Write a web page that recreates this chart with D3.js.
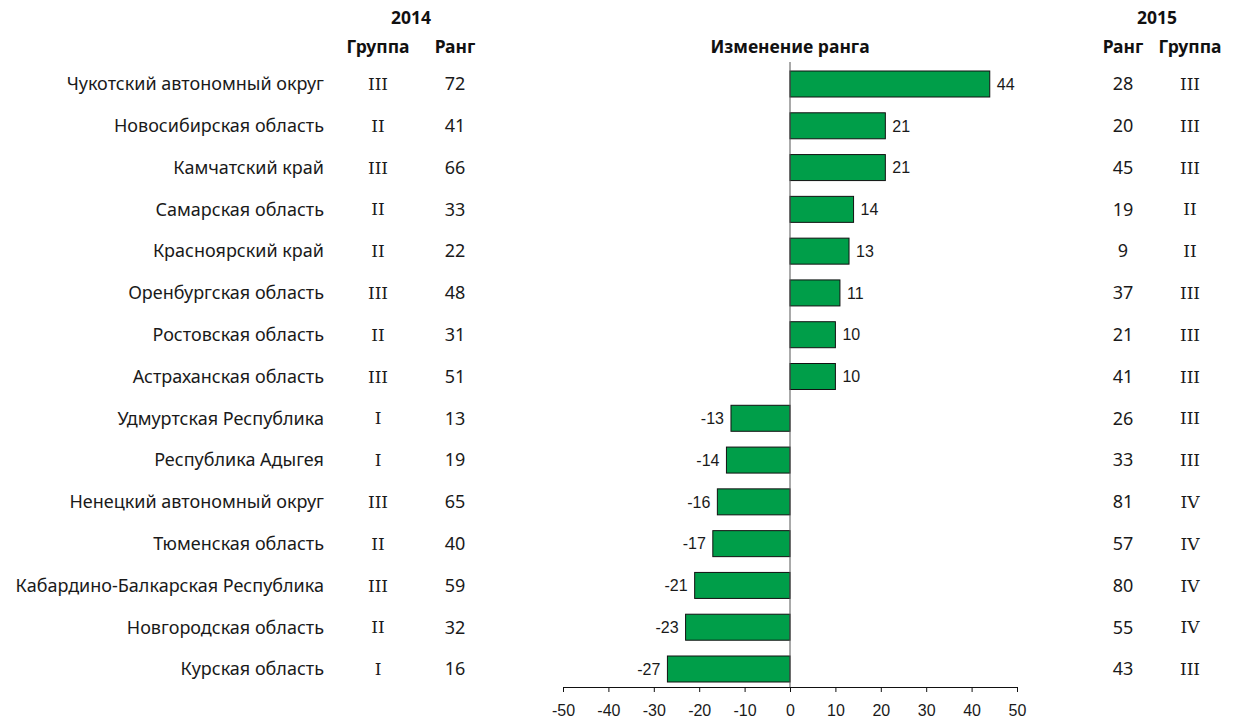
<!DOCTYPE html>
<html>
<head>
<meta charset="utf-8">
<script src="https://cdn.jsdelivr.net/npm/d3@7/dist/d3.min.js"></script>
<style>
  html, body { margin: 0; padding: 0; background: #fff; }
  svg { display: block; }
  .name { font-family: "Noto Sans", sans-serif; font-size: 18px; fill: #1a1a1a; }
  .num { font-family: "Noto Sans", sans-serif; font-size: 18px; fill: #1a1a1a; }
  .roman { font-family: "DejaVu Serif", serif; font-size: 17px; fill: #1a1a1a; }
  .head { font-family: "Noto Sans", sans-serif; font-size: 17.5px; font-weight: bold; fill: #111; }
  .val { font-family: "Liberation Sans", Arial, sans-serif; font-size: 16px; fill: #1a1a1a; }
  .axis text { font-family: "Liberation Sans", Arial, sans-serif; font-size: 16px; fill: #1a1a1a; }
</style>
</head>
<body>
<svg id="chart" width="1235" height="718"></svg>
<script>
// Regions, ordered by change in rank
const regions = [
  "Чукотский автономный округ",
  "Новосибирская область",
  "Камчатский край",
  "Самарская область",
  "Красноярский край",
  "Оренбургская область",
  "Ростовская область",
  "Астраханская область",
  "Удмуртская Республика",
  "Республика Адыгея",
  "Ненецкий автономный округ",
  "Тюменская область",
  "Кабардино-Балкарская Республика",
  "Новгородская область",
  "Курская область"
];
const group2014 = ["III","II","III","II","II","III","II","III","I","I","III","II","III","II","I"];
const rank2014  = [72, 41, 66, 33, 22, 48, 31, 51, 13, 19, 65, 40, 59, 32, 16];
const rankChange = [44, 21, 21, 14, 13, 11, 10, 10, -13, -14, -16, -17, -21, -23, -27];
const rank2015  = [28, 20, 45, 19, 9, 37, 21, 41, 26, 33, 81, 57, 80, 55, 43];
const group2015 = ["III","III","III","II","II","III","III","III","III","III","IV","IV","IV","IV","III"];
const xTicks = [-50, -40, -30, -20, -10, 0, 10, 20, 30, 40, 50];

const svg = d3.select("#chart");

const x = d3.scaleLinear().domain([-50, 50]).range([563, 1017]);
const y = d3.scalePoint().domain(d3.range(regions.length)).range([84, 669]);
const barH = 26;

// Column positions for the tabular part
const col = { name: 324, g14: 378, r14: 455, r15: 1123, g15: 1190 };

// Headers
svg.append("text").attr("class", "head").attr("x", 411).attr("y", 24).attr("text-anchor", "middle").text("2014");
svg.append("text").attr("class", "head").attr("x", col.g14).attr("y", 53).attr("text-anchor", "middle").text("Группа");
svg.append("text").attr("class", "head").attr("x", col.r14).attr("y", 53).attr("text-anchor", "middle").text("Ранг");
svg.append("text").attr("class", "head").attr("x", x(0)).attr("y", 53).attr("text-anchor", "middle").text("Изменение ранга");
svg.append("text").attr("class", "head").attr("x", 1157).attr("y", 24).attr("text-anchor", "middle").text("2015");
svg.append("text").attr("class", "head").attr("x", col.r15).attr("y", 53).attr("text-anchor", "middle").text("Ранг");
svg.append("text").attr("class", "head").attr("x", col.g15).attr("y", 53).attr("text-anchor", "middle").text("Группа");

const rows = svg.append("g").selectAll("g").data(regions).join("g")
  .attr("transform", (d, i) => `translate(0,${y(i)})`);

rows.append("text").attr("class", "name").attr("x", col.name).attr("dy", "0.35em")
  .attr("text-anchor", "end").text(d => d);
rows.append("text").attr("class", "roman").attr("x", col.g14).attr("dy", "0.36em")
  .attr("text-anchor", "middle").text((d, i) => group2014[i]);
rows.append("text").attr("class", "num").attr("x", col.r14).attr("dy", "0.35em")
  .attr("text-anchor", "middle").text((d, i) => rank2014[i]);
rows.append("text").attr("class", "num").attr("x", col.r15).attr("dy", "0.35em")
  .attr("text-anchor", "middle").text((d, i) => rank2015[i]);
rows.append("text").attr("class", "roman").attr("x", col.g15).attr("dy", "0.36em")
  .attr("text-anchor", "middle").text((d, i) => group2015[i]);

// Bars
rows.append("rect")
  .attr("x", (d, i) => x(Math.min(0, rankChange[i])))
  .attr("y", -barH / 2)
  .attr("width", (d, i) => Math.abs(x(rankChange[i]) - x(0)))
  .attr("height", barH)
  .attr("fill", "#009e49")
  .attr("stroke", "#111")
  .attr("stroke-width", 1);

rows.append("text").attr("class", "val")
  .attr("x", (d, i) => rankChange[i] >= 0 ? x(rankChange[i]) + 7 : x(rankChange[i]) - 7)
  .attr("dy", "0.36em")
  .attr("text-anchor", (d, i) => rankChange[i] >= 0 ? "start" : "end")
  .text((d, i) => String(rankChange[i]));

// Zero line
svg.append("line").attr("x1", x(0)).attr("x2", x(0)).attr("y1", 62).attr("y2", 687)
  .attr("stroke", "#555").attr("stroke-width", 1);

// Axis (plain hyphen for negatives)
const axis = svg.append("g").attr("class", "axis").attr("transform", "translate(0,687)")
  .call(d3.axisBottom(x).tickValues(xTicks).tickSize(5).tickPadding(13).tickFormat(d => String(d)));
axis.select(".domain").attr("stroke", "#111");
axis.selectAll(".tick line").attr("stroke", "#111");
</script>
</body>
</html>
